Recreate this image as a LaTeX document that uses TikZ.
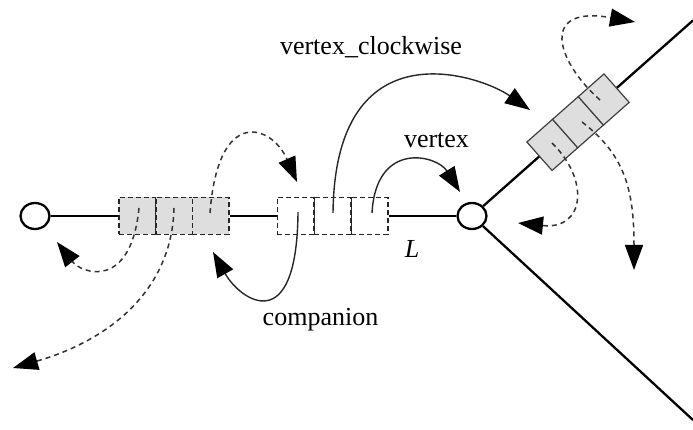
\documentclass[tikz,border=0pt]{standalone}
\usepackage{fontspec}
\setmainfont{Liberation Serif}
\usetikzlibrary{arrows.meta,shapes.geometric}

\begin{document}
\begin{tikzpicture}[x=1pt,y=-1pt,
  mainline/.style={line width=2.3pt, black},
  endpoint/.style={ellipse, draw, line width=2.3pt, fill=white, minimum width=29pt, minimum height=26pt, inner sep=0pt},
  cellbox/.style={draw=black!85, dash pattern=on 5pt off 3pt, line width=1.5pt, minimum width=36.5pt, minimum height=37pt, inner sep=0pt},
  graycell/.style={cellbox, fill=black!13},
  diagcell/.style={draw=black!75, line width=1.2pt, fill=black!13, minimum width=34.3pt, minimum height=38pt, inner sep=0pt, rotate=41.5},
  dashlink/.style={black!80, dash pattern=on 5pt off 4pt, line width=1.5pt, -{Triangle[length=25pt,width=18pt,black]}},
  solidlink/.style={black!85, line width=1.4pt, -{Triangle[length=25pt,width=18pt,black]}},
  lbl/.style={font=\fontsize{26}{30}\selectfont, inner sep=0pt, anchor=base}]
\useasboundingbox (0,0) rectangle (693,430);

% end points of the edge
\node[endpoint] (lc) at (35,216) {};
\node[endpoint] (rc) at (472,216) {};

% shaded half-edge group on the left
\node[graycell] (g1) at (137.3,216) {};
\node[graycell] (g2) at (174,216) {};
\node[graycell] (g3) at (210.7,216) {};

% open half-edge group in the middle
\node[cellbox] (w1) at (295.5,216) {};
\node[cellbox] (w2) at (332.5,216) {};
\node[cellbox] (w3) at (369.5,216) {};

% shaded group on the upper diagonal
\node[diagcell] (r1) at (552.3,144.9) {};
\node[diagcell] (r2) at (578,122.2) {};
\node[diagcell] (r3) at (603.7,99.5) {};

\coordinate (ne) at (693,20.4);
\coordinate (se) at (693,420);

% edges
\draw[mainline] (lc) -- (g1);
\draw[mainline] (g3) -- (w1);
\draw[mainline] (w3) -- (rc);
\draw[mainline] (rc) -- (r1);
\draw[mainline] (r3) -- (ne);
\draw[mainline] (rc) -- (se);

% pointer start and target coordinates
\coordinate (gs1) at (139,208);
\coordinate (gs2) at (174,208);
\coordinate (gs3) at (210,213);
\coordinate (gt1) at (57,242);
\coordinate (gt2) at (13,368);
\coordinate (gt3) at (297,182);

\coordinate (ws1) at (298,212);
\coordinate (ws2) at (333,213);
\coordinate (ws3) at (372,213);
\coordinate (wt1) at (213,252);
\coordinate (wt2) at (530,110);
\coordinate (wt3) at (460,192);

\coordinate (rs1) at (552,143);
\coordinate (rs2) at (582,122);
\coordinate (rs3) at (600,100);
\coordinate (rt1) at (518,223);
\coordinate (rt2) at (634,270);
\coordinate (rt3) at (635,22);

% dashed pointers of the shaded groups
\draw[dashlink] (gs1) .. controls (131,290) and (82,274) .. (gt1);
\draw[dashlink] (gs2) .. controls (172,290) and (110,340) .. (gt2);
\draw[dashlink] (gs3) .. controls (218,105) and (272,125) .. (gt3);

\draw[dashlink] (rs1) .. controls (590,180) and (585,230) .. (rt1);
\draw[dashlink] (rs2) .. controls (625,155) and (634,190) .. (rt2);
\draw[dashlink] (rs3) .. controls (555,60) and (540,5) .. (rt3);

% solid pointers of the open group
\draw[solidlink] (ws1) .. controls (297,340) and (240,300) .. (wt1);
\draw[solidlink] (ws2) .. controls (335,25) and (480,75) .. (wt2);
\draw[solidlink] (ws3) .. controls (376,140) and (437,155) .. (wt3);

% labels
\node[lbl] (lcw) at (371,55) {vertex\_clockwise};
\node[lbl] (lv) at (436.5,148) {vertex};
\node[lbl] (ll) at (412,258) {\itshape L};
\node[lbl] (lcp) at (320.5,325) {companion};
\end{tikzpicture}
\end{document}
